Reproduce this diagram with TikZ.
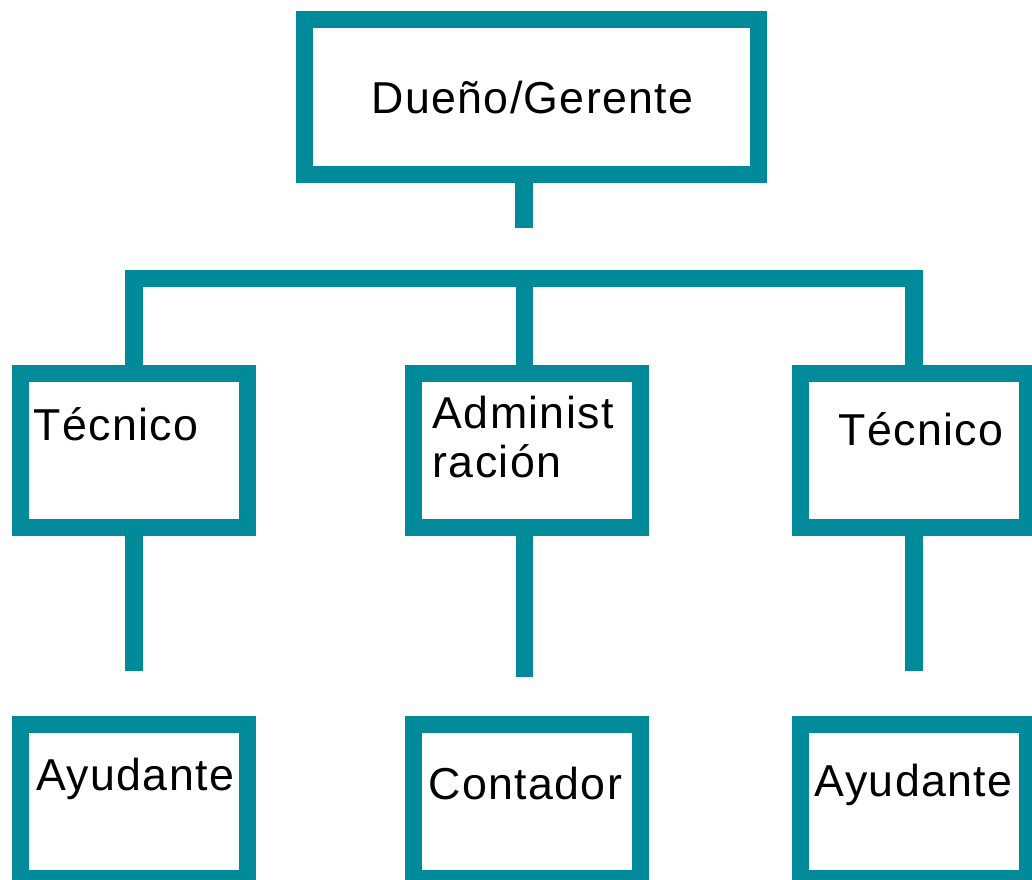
\documentclass[tikz,border=0pt]{standalone}
\usepackage{fontspec}
\setmainfont{Liberation Sans}[LetterSpace=3.0]
\definecolor{teal}{RGB}{0,138,154}
\begin{document}
\begin{tikzpicture}[x=1pt,y=-1pt,
  box/.style={draw=teal,line width=17.3pt,rectangle,inner sep=0pt,outer sep=0pt,minimum width=227.2pt,minimum height=154pt},
  conn/.style={draw=teal,line width=17.3pt,line cap=butt,line join=miter},
  lbl/.style={inner sep=0pt,outer sep=0pt,anchor=base,font=\fontsize{44.7}{49.4}\selectfont}]
\useasboundingbox (0,0) rectangle (1032,879);
% boxes
\node[box,minimum width=454.4pt,minimum height=154.5pt] (top) at (531.5,96.95) {};
\node[box] (midL) at (134.1,450.25) {};
\node[box] (midM) at (527.2,450.25) {};
\node[box] (midR) at (914.1,450.25) {};
\node[box,minimum height=154.5pt] (botL) at (134.1,801.45) {};
\node[box,minimum height=154.5pt] (botM) at (527.2,801.45) {};
\node[box,minimum height=154.5pt] (botR) at (914.1,801.45) {};
% connector coordinates
\coordinate (s0) at (524,227.7);
\coordinate (barL) at (134,278.7);
\coordinate (barM) at (524.2,278.7);
\coordinate (barR) at (914,278.7);
\coordinate (eL) at (134,671.3);
\coordinate (eM) at (524.2,676.7);
\coordinate (eR) at (914,671.3);
% connectors
\draw[conn] (top.south -| s0) -- (s0);
\draw[conn] (midL.north -| barL) -- (barL) -- (barR) -- (midR.north -| barR);
\draw[conn] (barM) -- (midM.north -| barM);
\draw[conn] (midL.south -| eL) -- (eL);
\draw[conn] (midM.south -| eM) -- (eM);
\draw[conn] (midR.south -| eR) -- (eR);
% labels
\node[lbl] (tTop) at (532.5,113.3) {Dueño/Gerente};
\node[lbl] (tMidL) at (115.8,440) {Técnico};
\node[lbl,anchor=base west,align=left] (tMidM) at (432.7,477.7) {Administ\\ración};
\node[lbl] (tMidR) at (921,445) {Técnico};
\node[lbl] (tBotL) at (135.2,790.7) {Ayudante};
\node[lbl] (tBotM) at (525.4,799.3) {Contador};
\node[lbl] (tBotR) at (913.7,796.7) {Ayudante};
\end{tikzpicture}
\end{document}
